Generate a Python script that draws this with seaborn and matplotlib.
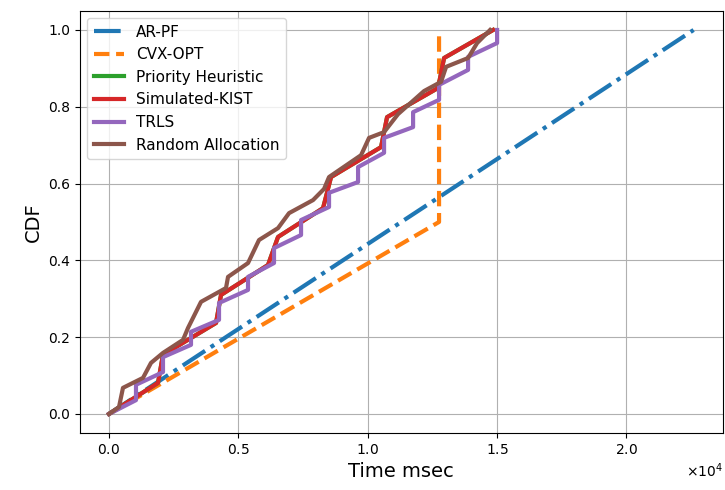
import numpy as np
import pandas as pd
import matplotlib
matplotlib.use("Agg")
import matplotlib.pyplot as plt
import seaborn as sns

# AR-PF (straight line) and CVX-OPT
arpf_x = [0, 22600]
arpf_y = [0.0, 1.0]
cvx_x = [0, 12760, 12760]
cvx_y = [0.0, 0.5, 1.0]

# Simulated-KIST (Priority Heuristic coincides)
kist_x = [0, 1895, 2088, 4138, 4331, 6148, 6535, 8275, 8585, 10518, 10750, 12722, 12954, 14849]
kist_y = [0.0, 0.081, 0.154, 0.237, 0.310, 0.388, 0.461, 0.536, 0.617, 0.695, 0.773, 0.849, 0.927, 1.0]
prio_x = kist_x
prio_y = kist_y

# TRLS
trls_x = [0, 1044, 1044, 2088, 2088, 3171, 3171, 4254, 4254, 5375, 5375, 6380, 6380,
          7425, 7425, 8507, 8507, 9629, 9629, 10634, 10634, 11756, 11756, 12761, 12761,
          13882, 13882, 15004, 15004]
trls_y = [0.0, 0.036, 0.076, 0.109, 0.148, 0.180, 0.214, 0.245, 0.289, 0.323, 0.357, 0.393, 0.432,
          0.466, 0.505, 0.539, 0.576, 0.604, 0.643, 0.680, 0.719, 0.747, 0.786, 0.818, 0.857,
          0.896, 0.930, 0.966, 1.0]

# Random Allocation
rand_x = [0, 387, 541, 1315, 1624, 2088, 2862, 3055, 3558, 4524, 4602, 5375, 5800, 6535, 6961,
          7889, 8314, 8507, 9745, 10054, 10634, 11176, 12181, 12838, 13032, 13882, 14231, 14733]
rand_y = [0.0, 0.018, 0.068, 0.094, 0.133, 0.159, 0.193, 0.224, 0.292, 0.328, 0.357, 0.393, 0.453,
          0.484, 0.523, 0.557, 0.586, 0.617, 0.674, 0.719, 0.734, 0.781, 0.841, 0.865, 0.904,
          0.927, 0.966, 1.0]

fig = plt.figure(figsize=(7.25, 4.9), dpi=100)
ax = fig.add_axes([0.110, 0.116, 0.887, 0.862])

series = [
    ("AR-PF", arpf_x, arpf_y, "#1f77b4", "-."),
    ("CVX-OPT", cvx_x, cvx_y, "#ff7f0e", "--"),
    ("Priority Heuristic", prio_x, prio_y, "#2ca02c", "-"),
    ("Simulated-KIST", kist_x, kist_y, "#d62728", "-"),
    ("TRLS", trls_x, trls_y, "#9467bd", "-"),
    ("Random Allocation", rand_x, rand_y, "#8c564b", "-"),
]
for name, xs, ys, c, ls in series:
    df = pd.DataFrame({"x": xs, "y": ys})
    sns.lineplot(data=df, x="x", y="y", ax=ax, estimator=None, sort=False,
                 color=c, linestyle=ls, linewidth=3, label=name)

ax.grid(True, color="#b0b0b0", linewidth=0.8)
ax.set_axisbelow(True)
ax.ticklabel_format(axis="x", style="sci", scilimits=(0, 0), useMathText=True)
ax.set_xticks([0, 5000, 10000, 15000, 20000])
ax.set_yticks([0.0, 0.2, 0.4, 0.6, 0.8, 1.0])
ax.set_xlabel("Time msec", fontsize=14)
ax.set_ylabel("CDF", fontsize=14)
ax.legend(loc="upper left", fontsize=11)
fig.savefig("out.png", dpi=100)
